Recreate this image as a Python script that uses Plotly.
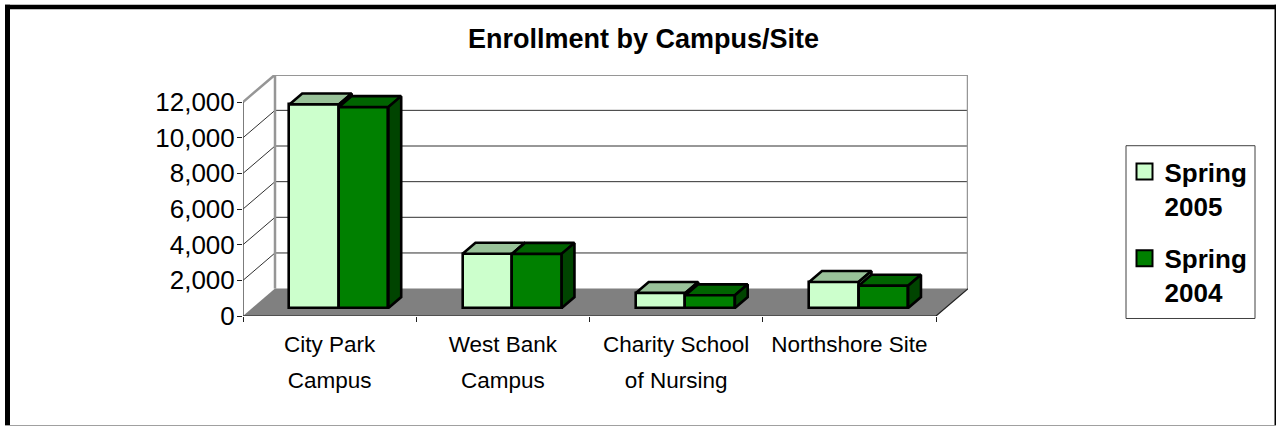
import plotly.graph_objects as go

categories = ["City Park|Campus", "West Bank|Campus", "Charity School|of Nursing", "Northshore Site"]
spring_2005 = [11425, 3045, 850, 1464]
spring_2004 = [11274, 3040, 715, 1257]
y_ticks = [0, 2000, 4000, 6000, 8000, 10000, 12000]

W, H = 1276, 427
L, R, T, B = 243.0, 968.0, 74.5, 316.5      # pixel box of the plot area
CAT_PX = 173.25
UNIT_PX = 35.8 / 2000
X_MAX = (R - L) / CAT_PX
Y_MAX = (B - T) / UNIT_PX
N = len(categories)
DX, DY = 32 / CAT_PX, 27.5 / UNIT_PX        # oblique depth of the floor
F0, FD = 0.29, 0.40                          # bar front position / depth fraction
BW = 49.5 / CAT_PX

WALL = "#969696"
GRID = "#303030"
AX = "#505050"
FONT = "Liberation Sans"
EDGE = 2.6

fig = go.Figure()


def poly(xs, ys, fill, xa="x", ya="y", line="black", lw=EDGE):
    fig.add_trace(go.Scatter(x=xs, y=ys, mode="lines", fill="toself", fillcolor=fill,
                             line=dict(color=line, width=lw), xaxis=xa, yaxis=ya,
                             showlegend=False, hoverinfo="skip", cliponaxis=False))


def seg(xs, ys, color, width):
    fig.add_trace(go.Scatter(x=xs, y=ys, mode="lines", line=dict(color=color, width=width),
                             showlegend=False, hoverinfo="skip", cliponaxis=False))


# floor
poly([0, DX, N + DX, N, 0], [0, DY, DY, 0, 0], "#808080", lw=0, line="#808080")
# grid on the side wall and the back wall
for v in y_ticks[1:-1]:
    seg([0, DX, N + DX], [v, v + DY, v + DY], GRID, 1)
# wall outline
seg([0, DX, N + DX, N + DX], [12000, 12000 + DY, 12000 + DY, DY], WALL, 2.5)
seg([DX, DX], [DY, 12000 + DY], WALL, 2.5)
# front axis lines
seg([0, 0], [0, 12000], AX, 1.5)
seg([0, N, N + DX], [0, 0, DY], "#202020", 1.2)


def bar_series(values, name, front, top, side, offset, xa, ya):
    xs = [i + 0.5 + F0 * DX + offset for i in range(N)]
    base = F0 * DY
    fig.add_trace(go.Bar(x=xs, y=values, base=base, width=BW, name=name, xaxis=xa, yaxis=ya,
                         marker=dict(color=front, line=dict(color="black", width=EDGE)),
                         showlegend=False))
    for x, v in zip(xs, values):
        x0, x1 = x - BW / 2, x + BW / 2
        ddx, ddy = FD * DX, FD * DY
        t = base + v
        poly([x0, x1, x1 + ddx, x0 + ddx, x0], [t, t, t + ddy, t + ddy, t], top, xa, ya)
        poly([x1, x1 + ddx, x1 + ddx, x1, x1], [base, base + ddy, t + ddy, t, base], side, xa, ya)


bar_series(spring_2005, "Spring 2005", "#CCFFCC", "#99C299", "#669966", -BW / 2, "x2", "y2")
bar_series(spring_2004, "Spring 2004", "#008000", "#006400", "#004400", BW / 2, "x3", "y3")

# legend entries
for nm, col in [("Spring<br>2005", "#CCFFCC"), ("Spring<br>2004", "#008000")]:
    fig.add_trace(go.Scatter(x=[None], y=[None], mode="markers", name=nm, legendgroup=nm,
                             marker=dict(symbol="square", size=18, color=col,
                                         line=dict(color="black", width=2))))


def px(x):
    return (x - L) / (R - L)


def py(y):
    return (B - y) / (B - T)


def frame(x0, y0, x1, y1, color="black", line=None):
    return dict(type="rect", xref="paper", yref="paper", x0=px(x0), x1=px(x1), y0=py(y0), y1=py(y1),
                fillcolor=color, line=line or dict(width=0), layer="above")


def cat_label(text):
    return "<br>".join('<span style="font-size:22.5px">%s</span>' % p for p in text.split("|"))


overlay = dict(visible=False, fixedrange=True)
fig.update_layout(
    width=W, height=H, autosize=False,
    margin=dict(l=L, r=W - R, t=T, b=H - B, pad=0),
    paper_bgcolor="white", plot_bgcolor="rgba(0,0,0,0)",
    font=dict(family=FONT, color="black"),
    barmode="overlay", bargap=0,
    title=dict(text="<b>Enrollment by Campus/Site</b>", x=643.5 / W, xref="container", xanchor="center",
               y=1 - 39 / H, yref="container", yanchor="middle", font=dict(size=27, family=FONT)),
    xaxis=dict(range=[0, X_MAX], tickvals=[i + 0.5 for i in range(N)],
               ticktext=[cat_label(c) for c in categories],
               ticks="outside", ticklen=1, tickcolor="rgba(0,0,0,0)", showgrid=False, zeroline=False,
               tickfont=dict(size=28, family=FONT), tickangle=0,
               minor=dict(tickvals=list(range(N + 1)), ticks="outside", ticklen=5, tickcolor="#202020",
                          tickwidth=1, showgrid=False)),
    yaxis=dict(range=[0, Y_MAX], tickvals=y_ticks, tickformat=",", ticks="outside", ticklen=5,
               ticklabelstandoff=-3,
               tickcolor="#202020", showgrid=False, zeroline=False, tickfont=dict(size=26)),
    xaxis2=dict(range=[0, X_MAX], overlaying="x", anchor="y2", **overlay),
    yaxis2=dict(range=[0, Y_MAX], overlaying="y", anchor="x2", **overlay),
    xaxis3=dict(range=[0, X_MAX], overlaying="x", anchor="y3", **overlay),
    yaxis3=dict(range=[0, Y_MAX], overlaying="y", anchor="x3", **overlay),
    legend=dict(x=px(1124.5), y=py(148), xanchor="left", yanchor="top", bgcolor="rgba(0,0,0,0)",
                borderwidth=0, itemsizing="trace", tracegroupgap=16, valign="top",
                font=dict(size=26, family=FONT, weight="bold"), itemclick=False, itemdoubleclick=False),
    shapes=[frame(5, 4, 10, H - 1), frame(5, 4, W, 8.5), frame(W - 1.5, 4, W, H - 1),
            frame(5, H - 1, W, H, "#A0A0A0"),
            frame(1126, 145.5, 1255, 319, "white", dict(color="#404040", width=1))],
)
fig.write_html("out.html", post_script="document.body.style.margin='0';",
               config=dict(displayModeBar=False))
